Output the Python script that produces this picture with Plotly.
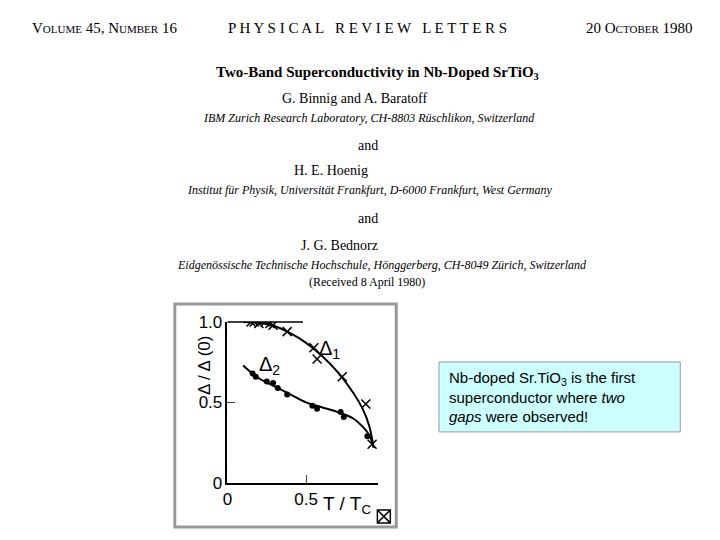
import plotly.graph_objects as go

# measured gap ratios
d1_x = [0.15, 0.17, 0.20, 0.24, 0.27, 0.29, 0.38, 0.55, 0.57, 0.73, 0.88, 0.92]
d1_y = [1.00, 1.00, 0.99, 1.00, 0.99, 0.98, 0.94, 0.84, 0.77, 0.66, 0.49, 0.24]
d2_x = [0.16, 0.18, 0.25, 0.29, 0.32, 0.38, 0.54, 0.57, 0.72, 0.74, 0.89]
d2_y = [0.68, 0.66, 0.63, 0.62, 0.59, 0.55, 0.48, 0.46, 0.44, 0.41, 0.29]
# hand-drawn fit curves
c1_x = [0.10, 0.20, 0.30, 0.40, 0.50, 0.60, 0.70, 0.80, 0.86, 0.90, 0.93]
c1_y = [1.00, 0.995, 0.975, 0.93, 0.87, 0.79, 0.69, 0.56, 0.46, 0.36, 0.22]
c2_x = [0.10, 0.20, 0.30, 0.40, 0.50, 0.60, 0.70, 0.80, 0.86, 0.90, 0.93]
c2_y = [0.73, 0.65, 0.60, 0.55, 0.50, 0.47, 0.44, 0.40, 0.35, 0.30, 0.22]

W, H = 720, 540
px = lambda v: v / W
# the page comes out slightly squashed vertically, so stretch back
py = lambda v: 1 - ((v - 9) / 0.965) / H

fig = go.Figure()
fig.add_trace(go.Scatter(x=c1_x, y=c1_y, mode='lines', line=dict(color='black', width=2, shape='spline')))
fig.add_trace(go.Scatter(x=c2_x, y=c2_y, mode='lines', line=dict(color='black', width=2, shape='spline')))
fig.add_trace(go.Scatter(x=d1_x, y=d1_y, mode='markers',
                         marker=dict(symbol='x-thin', size=9, line=dict(color='black', width=1.5))))
fig.add_trace(go.Scatter(x=d2_x, y=d2_y, mode='markers', marker=dict(color='black', size=6)))

fig.add_annotation(x=0.65, y=0.83, text='Δ<sub>1</sub>', showarrow=False,
                   font=dict(family='Liberation Sans Narrow, Arial', size=20, color='black'))
fig.add_annotation(x=0.27, y=0.73, text='Δ<sub>2</sub>', showarrow=False,
                   font=dict(family='Liberation Sans Narrow, Arial', size=20, color='black'))

serif = 'Liberation Serif'
texts = [
    (25, 28, 'V<span style="font-size:11px">OLUME</span> 45, N<span style="font-size:11px">UMBER</span> 16', 15, 'left'),
    (365, 28, 'P H Y S I C A L   R E V I E W   L E T T E R S', 15, 'center'),
    (695, 28, '20 O<span style="font-size:11px">CTOBER</span> 1980', 15, 'right'),
    (375, 73, '<b>Two-Band Superconductivity in Nb-Doped SrTiO<sub>3</sub></b>', 15, 'center'),
    (352, 99, 'G. Binnig and A. Baratoff', 14, 'center'),
    (367, 118, '<i>IBM Zurich Research Laboratory, CH-8803 Rüschlikon, Switzerland</i>', 12, 'center'),
    (366, 146, 'and', 14, 'center'),
    (328, 171, 'H. E. Hoenig', 14, 'center'),
    (368, 190, '<i>Institut für Physik, Universität Frankfurt, D-6000 Frankfurt, West Germany</i>', 12, 'center'),
    (366, 219, 'and', 14, 'center'),
    (337, 246, 'J. G. Bednorz', 14, 'center'),
    (380, 265, '<i>Eidgenössische Technische Hochschule, Hönggerberg, CH-8049 Zürich, Switzerland</i>', 12, 'center'),
    (365, 282, '(Received 8 April 1980)', 12, 'center'),
]
for x, y, t, s, a in texts:
    fig.add_annotation(x=px(x), y=py(y), xref='paper', yref='paper', text=t, showarrow=False,
                       xanchor=a, yanchor='middle', font=dict(family=serif, size=s, color='black'))

fig.add_annotation(x=px(344), y=py(505), xref='paper', yref='paper', text='T / T<sub>C</sub>', yanchor='middle',
                   showarrow=False, font=dict(family='Liberation Sans Narrow, Arial', size=19, color='black'))
fig.add_annotation(x=px(190), y=py(365), xref='paper', yref='paper', text='Δ / Δ (0)', textangle=-90,
                   yanchor='middle', showarrow=False,
                   font=dict(family='Liberation Sans Narrow, Arial', size=17, color='black'))
fig.add_annotation(x=px(445), y=py(397), xref='paper', yref='paper', xanchor='left', yanchor='middle',
                   text='Nb-doped Sr.TiO<sub>3</sub> is the first<br>superconductor where <i>two</i><br><i>gaps</i> were observed!',
                   showarrow=False, align='left', font=dict(family='Liberation Sans, Arial', size=15, color='black'))

P = dict(xref='paper', yref='paper')
shapes = [
    dict(type='rect', x0=px(171), x1=px(394), y0=py(304), y1=py(527), line=dict(color='#999999', width=3), **P),
    dict(type='rect', x0=px(437), x1=px(680), y0=py(362), y1=py(432), fillcolor='#ccffff',
         line=dict(color='#999999', width=1), layer='below', **P),
    dict(type='line', x0=px(224), x1=px(300), y0=py(322), y1=py(322), line=dict(color='black', width=1.5), **P),
    dict(type='rect', x0=px(375), x1=px(388), y0=py(510), y1=py(523), line=dict(color='black', width=1.5), **P),
    dict(type='line', x0=px(375), x1=px(388), y0=py(510), y1=py(523), line=dict(color='black', width=1.5), **P),
    dict(type='line', x0=px(375), x1=px(388), y0=py(523), y1=py(510), line=dict(color='black', width=1.5), **P),
]
tf = dict(family='Liberation Sans Narrow, Arial', size=17, color='black')
fig.update_layout(
    autosize=True, margin=dict(l=0, r=0, t=0, b=0),
    paper_bgcolor='white', plot_bgcolor='white', showlegend=False, shapes=shapes,
    xaxis=dict(domain=[px(224), px(376)], range=[0, 0.96], tickvals=[0, 0.5], ticktext=['0', '0.5'],
               ticks='inside', ticklen=8, showline=True, linecolor='black', linewidth=1.5,
               showgrid=False, zeroline=False, tickfont=tf),
    yaxis=dict(domain=[py(483), py(322)], range=[0, 1.0], tickvals=[0, 0.5, 1.0], ticktext=['0', '0.5', '1.0'],
               ticks='inside', ticklen=8, showline=True, linecolor='black', linewidth=1.5,
               showgrid=False, zeroline=False, tickfont=tf),
)
fig.write_html('out.html', config={'displayModeBar': False, 'responsive': True},
               default_width='100vw', default_height='100vh',
               post_script="document.body.style.margin='0';document.body.style.overflow='hidden';")
